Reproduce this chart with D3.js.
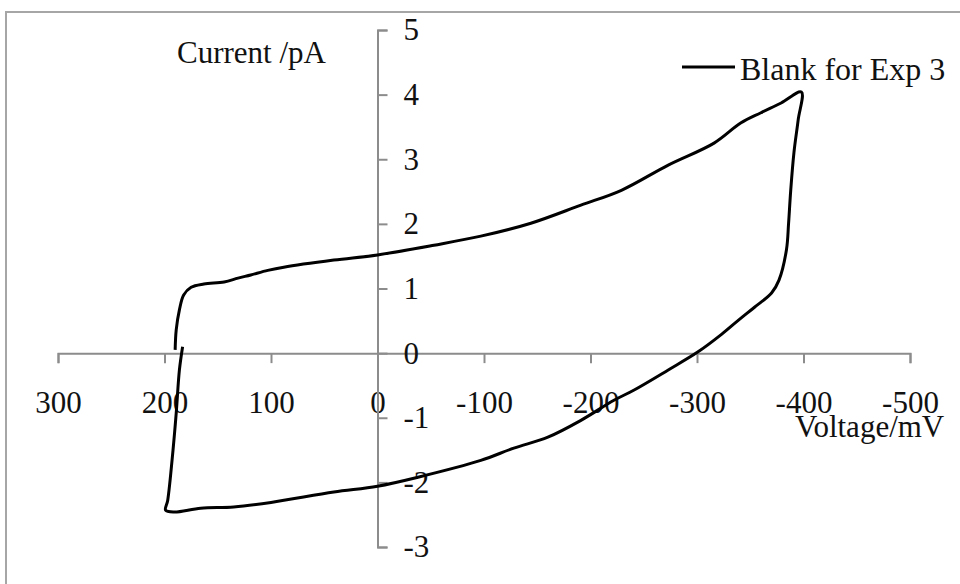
<!DOCTYPE html>
<html>
<head>
<meta charset="utf-8">
<script src="https://cdn.jsdelivr.net/npm/d3@7"></script>
</head>
<body style="margin:0">
<svg id="chart" width="960" height="584" font-family="Liberation Serif"></svg>
<script>
var voltage = [190, 189, 186, 182, 175, 163, 144, 131, 119, 103, 88, 41, 0, -53, -97,
    -144, -191, -229, -273, -316, -341, -360, -379, -398, -395, -391, -388, -386, -384,
    -377, -370, -354, -339, -323, -301, -273, -241, -222, -191, -160, -128, -97, -38,
    0, 41, 100, 135, 166, 191, 199, 197, 192, 189, 186, 183];
var current = [0.05, 0.36, 0.67, 0.90, 1.02, 1.07, 1.10, 1.16, 1.21, 1.28, 1.33, 1.44,
    1.52, 1.67, 1.81, 2.01, 2.29, 2.52, 2.91, 3.25, 3.56, 3.72, 3.87, 4.04, 3.61, 3.10,
    2.52, 2.01, 1.60, 1.13, 0.93, 0.71, 0.51, 0.29, 0.02, -0.26, -0.57, -0.73, -1.04,
    -1.30, -1.47, -1.66, -1.92, -2.06, -2.15, -2.31, -2.38, -2.40, -2.46, -2.43, -2.28,
    -1.50, -0.93, -0.26, 0.10];
var xTicks = [300, 200, 100, 0, -100, -200, -300, -400, -500];
var yTicks = [5, 4, 3, 2, 1, 0, -1, -2, -3];
var seriesName = "Blank for Exp 3";

function serif(sel, size) {
    sel.style("font-family", "'Liberation Serif'")
        .style("font-size", size + "px")
        .attr("fill", "#111");
}

function makeChart() {
    var data = voltage.map((v, i) => ({ v: v, i: current[i] }));
    var svg = d3.select("#chart");

    // outer chart frame, right and bottom edges fall off the page
    svg.append("rect")
        .attr("x", 6).attr("y", 12).attr("width", 990).attr("height", 600)
        .attr("fill", "none").attr("stroke", "#a6a6a6").attr("stroke-width", 2);

    // x axis is reversed: positive voltages on the left
    var scX = d3.scaleLinear().domain([300, -500]).range([58, 910]);
    var scY = d3.scaleLinear().domain([-3, 5]).range([547, 30]);

    var gx = svg.append("g")
        .attr("transform", "translate(0," + scY(0) + ")")
        .call(d3.axisBottom(scX).tickValues(xTicks)
            .tickFormat(d => String(d))
            .tickSize(10).tickPadding(28));

    var gy = svg.append("g")
        .attr("transform", "translate(" + scX(0) + ",0)")
        .call(d3.axisRight(scY).tickValues(yTicks)
            .tickFormat(d => String(d))
            .tickSize(10).tickPadding(16));

    [gx, gy].forEach(function (g) {
        g.attr("font-family", "Liberation Serif").attr("font-size", 31);
        g.selectAll("path, line").attr("stroke", "#8c8c8c").attr("stroke-width", 2);
        g.selectAll("text").call(serif, 31);
    });

    // centripetal catmull-rom keeps the corners without overshooting
    var lineMaker = d3.line()
        .curve(d3.curveCatmullRom.alpha(0.5))
        .x(d => scX(d.v))
        .y(d => scY(d.i));

    svg.append("path")
        .attr("fill", "none").attr("stroke", "#000")
        .attr("stroke-width", 3).attr("stroke-linejoin", "round")
        .attr("d", lineMaker(data));

    svg.append("text").attr("x", 177).attr("y", 63)
        .call(serif, 31).text("Current /pA");
    svg.append("text").attr("x", 795).attr("y", 437)
        .call(serif, 31).text("Voltage/mV");

    // legend
    svg.append("line")
        .attr("x1", 682).attr("x2", 735).attr("y1", 67).attr("y2", 67)
        .attr("stroke", "#000").attr("stroke-width", 3);
    svg.append("text").attr("x", 740).attr("y", 80)
        .call(serif, 32).text(seriesName);
}

makeChart();
</script>
</body>
</html>
